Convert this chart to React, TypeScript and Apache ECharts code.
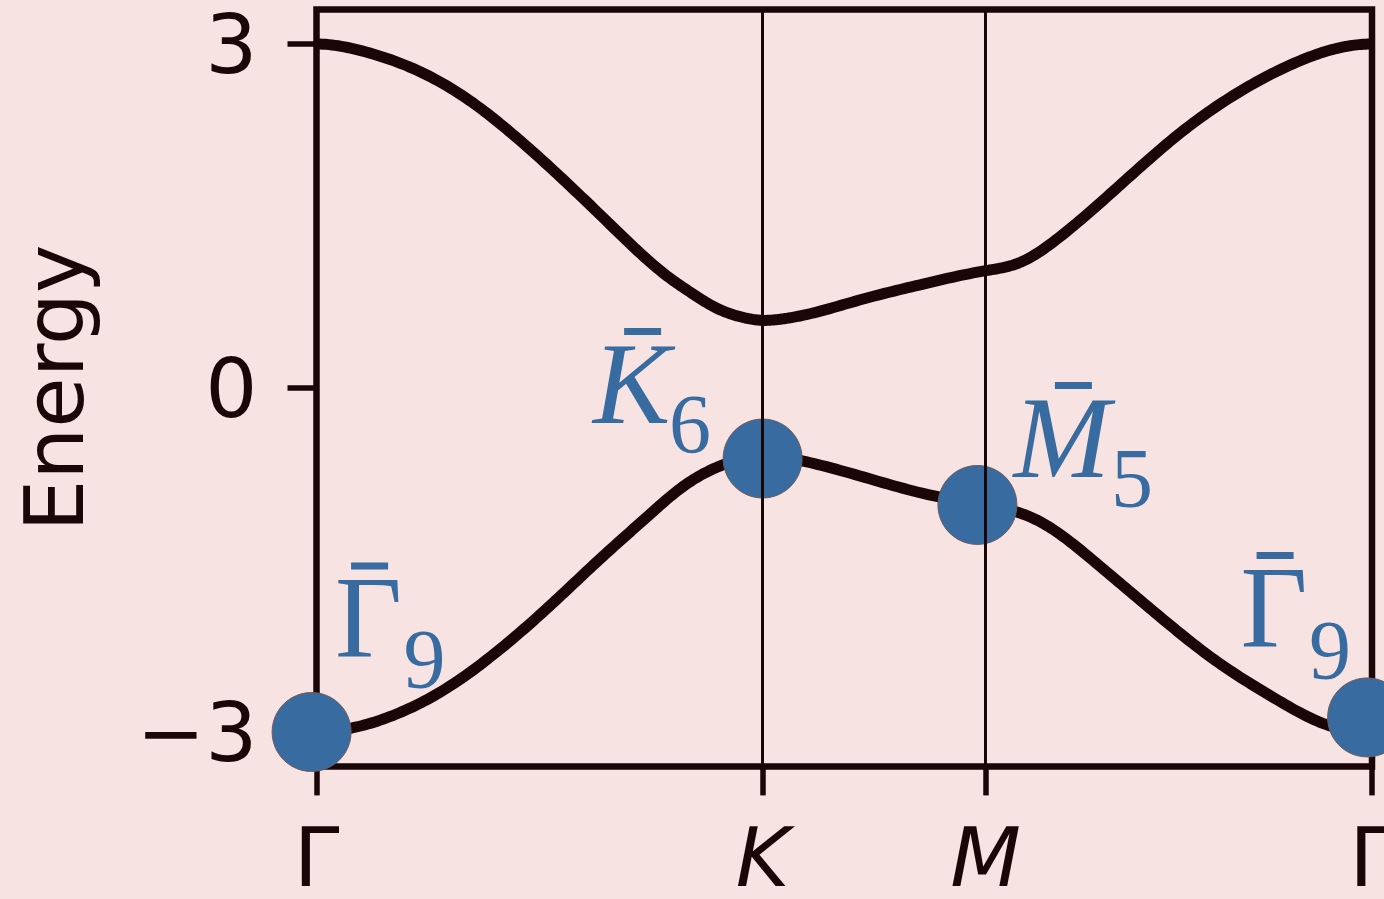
import React, { useEffect, useRef } from 'react';
import * as echarts from 'echarts';

// High-symmetry path Γ – K – M – Γ (hexagonal zone, segment lengths 2 : 1 : √3)
const pathTicks = [0, 2, 3, 4.732];
const pathLabels = ['Γ', 'K', 'M', 'Γ'];
const energyTicks = [-3, 0, 3];

// Conduction-like band along the path
const upperBand: [number, number][] = [
  [0, 3.0], [0.222, 2.93], [0.446, 2.775], [0.670, 2.529], [0.894, 2.189],
  [1.118, 1.796], [1.342, 1.378], [1.566, 0.985], [1.68, 0.83], [1.790, 0.70],
  [1.899, 0.622], [2.0, 0.59], [2.08, 0.6], [2.167, 0.628], [2.434, 0.767],
  [2.701, 0.898], [3.0, 1.023], [3.148, 1.090], [3.326, 1.308], [3.593, 1.753],
  [3.861, 2.206], [4.129, 2.573], [4.396, 2.843], [4.575, 2.962], [4.732, 3.0],
];

// Valence-like band along the path
const lowerBand: [number, number][] = [
  [0, -3.0], [0.146, -2.97], [0.370, -2.834], [0.594, -2.605], [0.818, -2.285],
  [1.042, -1.907], [1.266, -1.500], [1.491, -1.108], [1.642, -0.861], [1.791, -0.695],
  [1.899, -0.622], [2.0, -0.59], [2.08, -0.6], [2.165, -0.63], [2.432, -0.765],
  [2.786, -0.948], [3.0, -1.020], [3.229, -1.151], [3.495, -1.526], [3.761, -1.962],
  [4.027, -2.372], [4.293, -2.703], [4.558, -2.955], [4.732, -3.0],
];

// Irreducible representations marked on the lower band
const irrepX = [-0.022, 2.0, 2.963, 4.71];
const irrepY = [-3.0, -0.615, -1.02, -2.873];
const irrepLetter = ['Γ', 'K', 'M', 'Γ'];
const irrepIndex = ['9', '6', '5', '9'];

const INK = '#1a0606';
const BLUE = '#386ca0';
const BG = '#f8e3e3';

// Pixel offsets of each irrep label relative to its marker
const LABEL_LAYOUT = [
  { italic: false, mainX: 23.5, mainY: -113.7, barX: 39.5, barY: -169.5, subX: 92, subY: -72.2 },
  { italic: true, mainX: -169.5, mainY: -74.7, barX: -138.5, barY: -130.5, subX: -93.5, subY: -34.2 },
  { italic: true, mainX: 36, mainY: -67.2, barX: 77.5, barY: -123, subX: 133.5, subY: -26.7 },
  { italic: false, mainX: -126.5, mainY: -109.7, barX: -110.5, barY: -165.5, subX: -58, subY: -67.2 },
];

// Clamped cubic spline through the band points (flat tangents at both Γ ends),
// sampled finely so the stroke renders as one smooth curve.
function splineSamples(pts: [number, number][], perSegment = 16): [number, number][] {
  const n = pts.length;
  const x = pts.map((p) => p[0]);
  const y = pts.map((p) => p[1]);
  const h: number[] = [];
  for (let i = 0; i < n - 1; i++) h.push(x[i + 1] - x[i]);
  const a = new Array(n).fill(0);
  const b = new Array(n).fill(0);
  const c = new Array(n).fill(0);
  const d = new Array(n).fill(0);
  b[0] = 2 * h[0];
  c[0] = h[0];
  d[0] = 6 * ((y[1] - y[0]) / h[0] - 0);
  for (let i = 1; i < n - 1; i++) {
    a[i] = h[i - 1];
    b[i] = 2 * (h[i - 1] + h[i]);
    c[i] = h[i];
    d[i] = 6 * ((y[i + 1] - y[i]) / h[i] - (y[i] - y[i - 1]) / h[i - 1]);
  }
  a[n - 1] = h[n - 2];
  b[n - 1] = 2 * h[n - 2];
  d[n - 1] = 6 * (0 - (y[n - 1] - y[n - 2]) / h[n - 2]);
  // Thomas algorithm
  const cp = new Array(n).fill(0);
  const dp = new Array(n).fill(0);
  cp[0] = c[0] / b[0];
  dp[0] = d[0] / b[0];
  for (let i = 1; i < n; i++) {
    const m = b[i] - a[i] * cp[i - 1];
    cp[i] = c[i] / m;
    dp[i] = (d[i] - a[i] * dp[i - 1]) / m;
  }
  const M = new Array(n).fill(0);
  M[n - 1] = dp[n - 1];
  for (let i = n - 2; i >= 0; i--) M[i] = dp[i] - cp[i] * M[i + 1];

  const out: [number, number][] = [];
  for (let i = 0; i < n - 1; i++) {
    const hi = h[i];
    for (let k = 0; k < perSegment; k++) {
      const xx = x[i] + (hi * k) / perSegment;
      const A = x[i + 1] - xx;
      const B = xx - x[i];
      const yy =
        (M[i] * A * A * A) / (6 * hi) +
        (M[i + 1] * B * B * B) / (6 * hi) +
        (y[i] / hi - (M[i] * hi) / 6) * A +
        (y[i + 1] / hi - (M[i + 1] * hi) / 6) * B;
      out.push([xx, yy]);
    }
  }
  out.push([x[n - 1], y[n - 1]]);
  return out;
}

export default function App() {
  const ref = useRef<HTMLDivElement>(null);

  useEffect(() => {
    document.body.style.margin = '0';
    document.body.style.background = BG;
    if (!ref.current) return;
    const chart = echarts.init(ref.current, null, { renderer: 'svg' });

    const irrepData = irrepX.map((x, i) => [x, irrepY[i]]);
    const bands = [upperBand, lowerBand];
    const bandCurves = bands.map((b) => splineSamples(b));

    chart.setOption({
      animation: false,
      backgroundColor: BG,
      grid: {
        left: 316.5,
        right: 12,
        top: 9.6,
        bottom: 132.6,
        containLabel: false,
        outerBoundsMode: 'none',
        show: true,
        borderColor: INK,
        borderWidth: 6.5,
        backgroundColor: 'transparent',
      },
      xAxis: {
        type: 'value',
        min: 0,
        max: 4.732,
        axisLine: { show: false, onZero: false },
        splitLine: { show: false },
        axisTick: {
          show: true,
          customValues: pathTicks,
          length: 29,
          lineStyle: { color: INK, width: 5.5 },
        },
        axisLabel: {
          customValues: pathTicks,
          margin: 50,
          color: INK,
          fontFamily: 'DejaVu Sans',
          fontSize: 82,
          formatter: (v: number) => {
            let idx = 0;
            pathTicks.forEach((t, i) => {
              if (Math.abs(t - v) < Math.abs(pathTicks[idx] - v)) idx = i;
            });
            const name = pathLabels[idx];
            return name === 'Γ' ? `{up|${name}}` : `{it|${name}}`;
          },
          rich: {
            up: { fontFamily: 'DejaVu Sans', fontSize: 82, color: INK },
            it: { fontFamily: 'DejaVu Sans', fontStyle: 'italic', fontSize: 82, color: INK },
          },
        },
      },
      yAxis: {
        type: 'value',
        min: -3.3,
        max: 3.3,
        name: 'Energy',
        nameLocation: 'middle',
        nameGap: 221,
        nameTextStyle: { color: INK, fontFamily: 'DejaVu Sans', fontSize: 82 },
        axisLine: { show: false, onZero: false },
        splitLine: { show: false },
        axisTick: {
          show: true,
          customValues: energyTicks,
          length: 29,
          lineStyle: { color: INK, width: 5.5 },
        },
        axisLabel: {
          customValues: energyTicks,
          margin: 59,
          color: INK,
          fontFamily: 'DejaVu Sans',
          fontSize: 82,
          formatter: (v: number) => (v < 0 ? '\u2212' + Math.abs(v) : String(v)),
        },
      },
      series: [
        {
          // Both bands, drawn as smooth strokes through the read points
          type: 'custom',
          data: bands.map((_, i) => [i, 0]),
          clip: false,
          z: 2,
          renderItem: (params: any, api: any) => {
            const curve = bandCurves[params.dataIndex];
            const points = curve.map((p) => api.coord(p));
            return {
              type: 'polyline',
              shape: { points },
              style: { stroke: INK, lineWidth: 11, fill: 'none', lineJoin: 'round', lineCap: 'butt' },
            };
          },
          markLine: {
            silent: true,
            symbol: ['none', 'none'],
            label: { show: false },
            lineStyle: { color: INK, width: 3, type: 'solid' },
            data: [{ xAxis: pathTicks[1] }, { xAxis: pathTicks[2] }],
          },
        },
        {
          type: 'scatter',
          data: irrepData,
          symbol: 'circle',
          symbolSize: 79,
          clip: false,
          itemStyle: { color: BLUE, borderColor: '#6e5a5c', borderWidth: 1, opacity: 1 },
          z: 3,
        },
        {
          type: 'custom',
          data: irrepData,
          clip: false,
          z: 4,
          renderItem: (params: any, api: any) => {
            const i = params.dataIndex;
            const [cx, cy] = api.coord([api.value(0), api.value(1)]);
            const L = LABEL_LAYOUT[i];
            return {
              type: 'group',
              children: [
                {
                  type: 'text',
                  x: cx + L.mainX,
                  y: cy + L.mainY,
                  style: {
                    text: irrepLetter[i],
                    fontFamily: 'Liberation Serif',
                    fontSize: 116,
                    fontStyle: L.italic ? 'italic' : 'normal',
                    fill: BLUE,
                    align: 'left',
                    verticalAlign: 'middle',
                  },
                },
                {
                  type: 'rect',
                  shape: { x: cx + L.barX, y: cy + L.barY, width: 37, height: 7 },
                  style: { fill: BLUE },
                },
                {
                  type: 'text',
                  x: cx + L.subX,
                  y: cy + L.subY,
                  style: {
                    text: irrepIndex[i],
                    fontFamily: 'Liberation Serif',
                    fontSize: 84,
                    fill: BLUE,
                    align: 'left',
                    verticalAlign: 'middle',
                  },
                },
              ],
            };
          },
        },
      ],
    });

    return () => chart.dispose();
  }, []);

  return <div ref={ref} style={{ width: 1384, height: 899 }} />;
}
